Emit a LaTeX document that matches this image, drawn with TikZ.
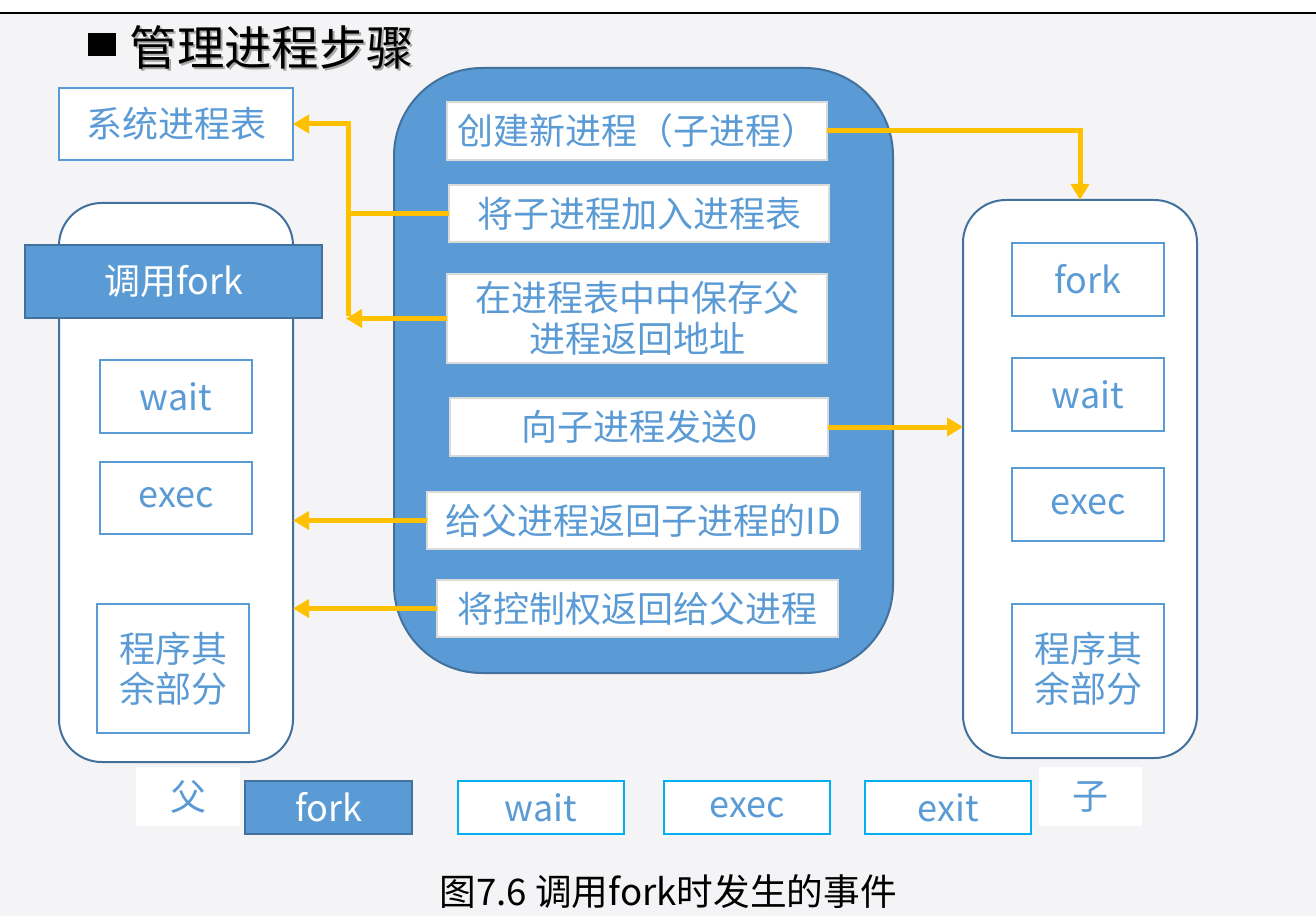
\documentclass[tikz,border=0pt]{standalone}
\usepackage{fontspec}
\setmainfont{Noto Sans CJK SC}
\usetikzlibrary{arrows.meta}
\definecolor{bl}{HTML}{5B9BD5}
\definecolor{dbl}{HTML}{41719C}
\definecolor{org}{HTML}{FFC000}
\definecolor{cyn}{HTML}{00B0F0}
\definecolor{bgc}{HTML}{F4F4F6}
\definecolor{lgc}{HTML}{DADADA}
\begin{document}
\begin{tikzpicture}[x=0.75pt,y=-0.75pt,
 wh/.style 2 args={minimum width=#1*0.75pt, minimum height=#2*0.75pt},
 base/.style={inner sep=0pt, outer sep=0pt, line width=1.5pt, align=center, font=\fontsize{27}{31}\selectfont},
 wbox/.style={base, draw=bl, fill=white, text=bl},
 fbox/.style={base, draw=dbl, fill=bl, text=white},
 cbox/.style={base, draw=lgc, fill=white, text=bl},
 tbox/.style={base, draw=cyn, fill=white, text=bl},
 wplain/.style={base, fill=white, text=bl},
 proc/.style={draw=dbl, line width=1.5pt, inner sep=0pt, outer sep=0pt},
 arr/.style={draw=org, line width=3.75pt, -{Triangle[length=12pt,width=13.5pt]}},
 ln/.style={draw=org, line width=3.75pt}]
\useasboundingbox (0,0) rectangle (1316,916);
\fill[bgc] (0,0) rectangle (1316,916);
\fill[white] (0,0) rectangle (1316,13);
\draw[black, line width=1.8pt] (0,13) -- (1316,13);

% title
\node[fill=black, inner sep=0pt, wh={28}{23}] (sq) at (102,44.5) {};
\node[anchor=west, text=black!35, font=\fontsize{35.5}{40}\selectfont] (tsh) at (127,49) {管理进程步骤};
\node[anchor=west, text=black, font=\fontsize{35.5}{40}\selectfont] (title) at (125,47) {管理进程步骤};

% left
\node[wbox, wh={234}{72}] (sys) at (176,124) {系统进程表};
\node[proc, fill=white, rounded corners=32pt, wh={234}{559}] (parent) at (176,482.5) {};
\node[fbox, wh={297}{73}] (callfork) at (173.5,281.5) {调用fork};
\node[wbox, wh={152}{73}] (pwait) at (176,396.5) {wait};
\node[wbox, wh={152}{72}] (pexec) at (176,498) {exec};
\node[wbox, wh={152}{129}, font=\fontsize{27}{30}\selectfont] (prest) at (173,668.5) {程序其\\余部分};

% center
\node[proc, fill=bl, rounded corners=66pt, wh={499}{605}] (kernel) at (643.5,370.5) {};
\node[cbox, wh={380}{58}] (c1) at (637,131) {创建新进程（子进程）};
\node[cbox, wh={380}{57}] (c2) at (639,213.5) {将子进程加入进程表};
\node[cbox, wh={380}{89}] (c3) at (637,318.5) {在进程表中中保存父\\进程返回地址};
\node[cbox, wh={378}{58}] (c4) at (639,427) {向子进程发送0};
\node[cbox, wh={433}{57}] (c5) at (643.5,520.5) {给父进程返回子进程的ID};
\node[cbox, wh={401}{57}] (c6) at (637.5,608.5) {将控制权返回给父进程};

% right
\node[proc, fill=white, rounded corners=32pt, wh={234}{558}] (child) at (1080,479) {};
\node[wbox, wh={152}{73}] (kfork) at (1088,279.5) {fork};
\node[wbox, wh={152}{73}] (kwait) at (1088,394.5) {wait};
\node[wbox, wh={152}{73}] (kexec) at (1088,504.5) {exec};
\node[wbox, wh={152}{129}, font=\fontsize{27}{30}\selectfont] (krest) at (1088,668.5) {程序其\\余部分};

% bottom row
\node[wplain, wh={104}{59}] (fu) at (188,796.5) {父};
\node[fbox, wh={167}{53}] (bfork) at (328.5,807.5) {fork};
\node[tbox, wh={166}{53}] (bwait) at (541,807.5) {wait};
\node[tbox, wh={166}{53}] (bexec) at (747,807.5) {exec};
\node[tbox, wh={166}{53}] (bexit) at (948,807.5) {exit};
\node[wplain, wh={103}{59}] (zi) at (1090.5,796.5) {子};

\node[text=black, font=\fontsize{27.5}{32}\selectfont] (cap) at (668,892) {图7.6 调用fork时发生的事件};

% connectors
\coordinate (jn) at (348,213.5);
\coordinate (jb) at (346,318.5);
\draw[arr] (c2.west) -- (jn) |- (sys.east);
\draw[ln] (jn) -- (348,316);
\draw[arr] (c3.west) -- (jb);
\draw[arr] (c1.east) -| (child.north);
\draw[arr] (c4.east) -- (c4.east -| child.west);
\draw[arr] (c5.west) -- (c5.west -| parent.east);
\draw[arr] (c6.west) -- (c6.west -| parent.east);
\end{tikzpicture}
\end{document}
